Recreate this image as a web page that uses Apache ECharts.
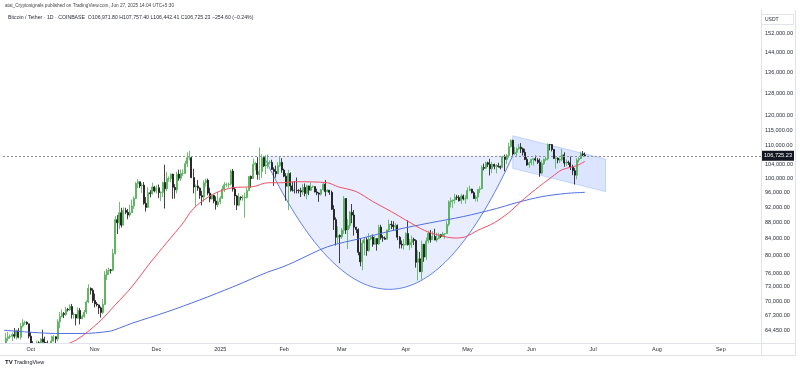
<!DOCTYPE html>
<html><head><meta charset="utf-8">
<script src="https://cdn.jsdelivr.net/npm/echarts@6/dist/echarts.min.js"></script>
<style>html,body{margin:0;padding:0;background:#fff}#c{width:800px;height:370px}</style>
</head><body><div id="c"></div>
<script>
// ---- data (prices in thousands of USDT), daily from 2024-09-18 to 2025-06-27 ----
const startDate = '2024-09-18';
const dayCount = 368; // visible axis span incl. empty future days
const opens = [
60.3,61.7,62.9,63.2,63.3,63.6,63.3,64.3,63.1,65.2,65.8,65.9,65.6,
63.3,60.8,60.6,60.7,62.1,62.0,62.8,62.2,62.1,60.6,60.3,62.4,63.2,62.8,66.0,67.0,67.6,67.4,68.4,68.3,69.0,67.4,67.4,66.7,68.2,66.6,67.0,67.9,69.9,72.7,72.3,
70.2,69.5,69.3,68.7,67.8,69.4,75.6,76.5,76.7,76.6,80.4,88.7,87.9,90.5,87.3,91.1,90.6,89.9,90.5,92.3,94.3,98.5,99.0,97.8,98.0,93.0,91.9,95.9,95.6,97.5,
96.4,97.3,95.9,96.0,98.8,97.0,99.9,99.9,101.2,97.4,96.7,101.2,100.0,101.4,101.4,104.3,106.1,106.1,100.2,97.5,97.8,97.2,95.1,94.7,98.7,99.4,95.8,94.2,95.2,93.6,92.6,
93.4,94.4,96.9,98.1,98.2,98.3,102.1,96.9,95.0,92.5,94.7,94.5,94.5,94.6,96.5,100.5,99.9,104.1,104.4,101.1,102.0,106.1,103.6,104.0,104.7,104.7,102.6,102.0,101.3,103.7,104.7,
102.4,100.6,97.7,101.4,97.8,96.6,96.55,96.5,96.45,96.1,97.4,95.7,97.8,96.6,97.5,97.6,96.1,95.8,95.5,96.7,98.3,96.2,96.6,96.0,91.4,88.7,84.3,84.7,
84.4,86.0,94.3,86.1,87.2,90.6,89.9,86.8,86.2,80.7,78.5,82.9,83.7,81.1,83.9,84.3,82.6,84.0,82.7,86.8,84.2,84.1,83.8,86.1,87.5,87.4,86.9,87.2,84.3,82.6,82.4,
82.5,85.2,82.5,83.1,83.8,83.5,78.4,79.2,76.3,82.6,79.6,83.4,85.3,83.7,84.5,83.6,84.0,84.9,84.5,85.1,85.2,87.5,93.4,93.7,93.9,94.7,94.6,93.7,95.0,94.2,
94.25,96.5,96.9,95.9,94.3,94.7,96.8,97.0,103.2,102.9,104.6,104.1,102.8,104.1,103.5,103.7,103.5,103.2,106.4,105.6,106.8,109.6,111.6,107.3,107.8,108.9,109.4,108.9,107.8,105.6,103.9,
104.6,105.6,105.8,105.4,104.7,101.5,104.3,105.6,105.8,110.3,110.25,108.7,105.9,106.0,105.4,105.6,107.0,104.5,104.7,104.6,103.3,102.2,100.9,105.4,105.9,107.3,106.9718
];
const highs = [
61.8,63.9,64.1,63.6,64.0,64.8,64.5,64.8,65.8,66.5,66.2,66.1,65.6,
64.1,62.4,61.5,62.5,62.4,62.9,64.5,63.2,62.5,61.3,63.4,63.5,63.3,66.5,67.9,68.4,67.9,68.9,68.7,69.4,69.5,67.8,67.5,68.8,68.7,67.4,68.3,70.2,73.6,72.9,72.7,
71.6,69.9,69.4,69.0,70.5,76.4,76.9,77.2,76.9,81.5,89.6,89.9,93.4,91.8,91.9,91.8,91.5,92.6,94.0,94.9,98.9,99.8,99.0,98.6,98.9,94.7,97.4,96.6,98.7,97.8,
98.0,98.2,96.3,99.0,104.0,101.9,100.5,101.4,101.3,98.3,101.9,102.5,102.6,102.6,105.2,107.8,108.3,106.5,102.8,98.2,99.5,97.4,96.4,99.4,99.9,99.9,97.3,95.5,95.2,94.9,96.1,
94.9,97.8,98.9,98.7,98.8,102.5,102.7,97.3,95.3,95.8,94.9,95.3,95.9,97.3,100.7,100.8,105.9,104.9,106.3,109.3,107.2,106.3,106.9,107.1,105.3,105.5,103.2,103.7,104.8,106.4,106.0,
102.8,101.5,102.5,101.7,99.0,99.2,100.2,96.9,97.3,98.3,98.5,98.1,97.9,98.8,97.9,97.7,97.0,96.0,96.9,98.8,99.5,96.9,96.6,96.5,92.5,89.3,87.0,85.0,
86.6,95.0,94.4,88.9,90.9,92.8,91.2,86.8,86.5,83.9,83.6,84.3,84.3,85.3,84.7,85.0,84.7,84.0,87.4,87.4,84.8,84.5,86.1,88.7,88.4,88.3,87.8,87.5,84.6,83.5,83.9,
85.5,88.5,83.9,84.7,84.2,83.8,81.2,80.8,83.5,82.7,84.2,85.9,86.1,85.8,86.4,85.4,85.4,85.1,85.6,85.3,88.4,93.8,94.6,94.0,95.6,95.3,95.2,95.6,95.4,95.2,
97.4,97.9,97.0,96.3,95.2,96.9,97.7,103.8,104.3,104.9,104.9,105.8,104.9,104.3,104.2,104.6,103.7,106.7,107.1,107.3,110.8,111.9,111.8,109.5,109.3,110.4,110.7,109.3,108.9,106.3,104.9,
105.8,105.9,106.8,106.0,105.9,105.3,105.9,106.4,110.6,110.4,110.4,108.8,106.2,106.2,106.0,108.9,107.8,105.6,105.2,106.5,104.0,103.0,106.0,106.3,108.0,108.2,107.7574
];
const lows = [
59.2,61.6,62.4,62.8,62.4,62.9,62.7,62.9,62.7,64.9,65.4,65.4,62.9,
60.2,59.9,59.8,60.5,61.7,61.8,62.2,61.8,60.3,58.9,60.1,62.4,62.0,62.4,64.8,66.8,66.7,67.1,68.0,68.1,66.6,66.6,65.3,66.6,65.5,66.5,66.8,67.5,69.7,71.4,69.7,
68.8,69.0,67.5,66.8,67.5,69.3,74.5,75.6,75.9,76.5,80.2,85.1,86.3,86.7,87.2,90.1,88.8,89.4,90.4,91.5,94.1,97.2,97.2,95.8,92.6,90.8,91.8,94.6,95.4,96.0,
95.7,94.4,93.6,94.7,91.6,96.4,99.0,98.8,94.2,94.3,95.7,99.3,99.2,100.6,101.2,103.3,105.3,100.0,95.7,92.1,96.4,94.2,92.4,93.4,97.6,95.2,93.3,94.0,93.0,91.3,92.0,
92.8,94.2,96.1,97.5,97.3,97.9,96.2,92.5,91.2,92.2,93.8,93.7,89.2,94.3,96.5,97.3,99.9,102.3,99.6,99.5,100.1,103.3,101.2,102.8,104.1,102.5,97.8,100.2,101.3,103.3,101.6,
100.3,93.7,91.2,96.2,96.2,95.7,95.7,95.7,94.7,95.3,94.9,94.1,95.2,96.3,97.2,96.0,95.2,93.4,95.1,96.5,94.9,96.1,95.3,91.2,86.1,82.3,82.8,78.2,
83.9,85.1,85.1,81.5,86.4,87.8,84.7,85.3,80.0,77.5,76.6,80.0,79.9,80.8,83.6,82.0,82.5,81.1,82.4,83.7,83.2,83.7,83.8,85.6,86.3,85.9,85.8,83.6,81.6,81.6,81.3,
82.4,82.3,81.2,81.7,82.4,77.2,74.4,76.3,74.6,78.5,78.9,82.8,83.0,83.7,83.6,83.1,83.8,84.1,84.4,83.9,85.1,87.0,91.9,91.7,92.9,93.9,93.5,92.8,93.8,92.9,
94.1,96.3,95.7,94.2,93.5,93.4,95.8,96.9,102.3,102.8,103.3,100.8,101.5,102.6,101.4,103.1,102.6,103.1,102.0,104.2,106.1,109.3,106.8,107.0,106.7,108.6,107.6,106.8,105.4,103.7,103.1,
103.9,103.7,105.0,104.2,100.4,101.1,103.9,105.1,105.3,108.4,108.1,105.7,102.8,104.4,104.5,105.0,103.4,103.6,103.9,102.4,100.9,98.2,99.7,104.7,105.8,106.6,106.44241
];
const closes = [
61.7,62.9,63.2,63.3,63.6,63.3,64.3,63.1,65.2,65.8,65.9,65.6,63.3,
60.8,60.6,60.7,62.1,62.0,62.8,62.2,62.1,60.6,60.3,62.4,63.2,62.8,66.0,67.0,67.6,67.4,68.4,68.3,69.0,67.4,67.4,66.7,68.2,66.6,67.0,67.9,69.9,72.7,72.3,70.2,
69.5,69.3,68.7,67.8,69.4,75.6,76.5,76.7,76.6,80.4,88.7,87.9,90.5,87.3,91.1,90.6,89.9,90.5,92.3,94.3,98.5,99.0,97.8,98.0,93.0,91.9,95.9,95.6,97.5,96.4,
97.3,95.9,96.0,98.8,97.0,99.9,99.9,101.2,97.4,96.7,101.2,100.0,101.4,101.4,104.3,106.1,106.1,100.2,97.5,97.8,97.2,95.1,94.7,98.7,99.4,95.8,94.2,95.2,93.6,92.6,93.4,
94.4,96.9,98.1,98.2,98.3,102.1,96.9,95.0,92.5,94.7,94.5,94.5,94.6,96.5,100.5,99.9,104.1,104.4,101.1,102.0,106.1,103.6,104.0,104.7,104.7,102.6,102.0,101.3,103.7,104.7,102.4,
100.6,97.7,101.4,97.8,96.6,96.55,96.5,96.45,96.1,97.4,95.7,97.8,96.6,97.5,97.6,96.1,95.8,95.5,96.7,98.3,96.2,96.6,96.0,91.4,88.7,84.3,84.7,84.4,
86.0,94.3,86.1,87.2,90.6,89.9,86.8,86.2,80.7,78.5,82.9,83.7,81.1,83.9,84.3,82.6,84.0,82.7,86.8,84.2,84.1,83.8,86.1,87.5,87.4,86.9,87.2,84.3,82.6,82.4,82.5,
85.2,82.5,83.1,83.8,83.5,78.4,79.2,76.3,82.6,79.6,83.4,85.3,83.7,84.5,83.6,84.0,84.9,84.5,85.1,85.2,87.5,93.4,93.7,93.9,94.7,94.6,93.7,95.0,94.2,94.25,
96.5,96.9,95.9,94.3,94.7,96.8,97.0,103.2,102.9,104.6,104.1,102.8,104.1,103.5,103.7,103.5,103.2,106.4,105.6,106.8,109.6,111.6,107.3,107.8,108.9,109.4,108.9,107.8,105.6,103.9,104.6,
105.6,105.8,105.4,104.7,101.5,104.3,105.6,105.8,110.3,110.25,108.7,105.9,106.0,105.4,105.6,107.0,104.5,104.7,104.6,103.3,102.2,100.9,105.4,105.9,107.3,106.97983,106.72523
];
// moving averages (thousands)
const ma50Dates = ['2024-10-12','2024-10-23','2024-11-03','2024-11-11','2024-11-19','2024-11-28','2024-12-06','2024-12-14','2024-12-18','2024-12-23','2024-12-30','2025-01-07','2025-01-17','2025-01-24','2025-01-31','2025-02-06','2025-02-22','2025-02-27','2025-03-08','2025-03-16','2025-03-25','2025-04-02','2025-04-10','2025-04-17','2025-04-25','2025-04-30','2025-05-06','2025-05-14','2025-05-21','2025-05-27','2025-06-03','2025-06-11','2025-06-16','2025-06-23','2025-06-27'];
const ma50Values = [61.0,62.6,65.9,69.3,73.0,78.3,83.0,87.9,91.0,93.5,95.9,97.3,97.6,98.7,98.7,99.0,98.7,97.6,96.2,93.5,90.8,88.3,86.0,84.8,84.1,84.4,86.0,87.9,90.5,93.5,96.8,100.4,102.5,103.7,105.0];
const ma200Dates = ['2024-09-18','2024-10-02','2024-10-13','2024-10-26','2024-11-08','2024-11-13','2024-11-19','2024-12-06','2024-12-22','2025-01-07','2025-01-24','2025-01-31','2025-02-06','2025-02-22','2025-03-11','2025-03-27','2025-04-13','2025-04-29','2025-05-15','2025-05-25','2025-06-06','2025-06-18','2025-06-27'];
const ma200Values = [64.4,64.0,63.8,63.8,64.2,64.8,65.7,67.9,70.3,73.0,76.2,77.3,78.5,82.0,84.1,86.1,87.9,89.5,91.6,93.2,94.8,95.7,96.0];
// drawings: cup (left rim, bottom, right rim) and descending channel corners
const cupDates = ['2025-01-22','2025-03-24','2025-05-23'];
const cupPrices = [106.725, 72.5, 106.725];
const channelDates = ['2025-05-23','2025-07-07','2025-07-07','2025-05-23'];
const channelPrices = [113.1, 105.7, 96.2, 102.9];
const priceTicks = [152000,144000,136000,128000,120000,115000,110000,104000,100000,96000,92000,88000,84000,80000,76000,73000,70000,67300,64450];
const monthNames = ['Jan','Feb','Mar','Apr','May','Jun','Jul','Aug','Sep','Oct','Nov','Dec'];

// ---- build ----
const K = 1000;
const cats = [];
const d0 = new Date(startDate + 'T00:00:00Z');
for (let i = 0; i < dayCount; i++) cats.push(new Date(d0.getTime() + i * 86400000).toISOString().slice(0, 10));
const candles = opens.map((o, i) => [o * K, closes[i] * K, lows[i] * K, highs[i] * K]);
const fmt = v => v.toLocaleString('en-US', {minimumFractionDigits: 2, maximumFractionDigits: 2});
const n = closes.length;
const lastC = closes[n - 1] * K, prevC = closes[n - 2] * K;
const chg = lastC - prevC, pct = chg / prevC * 100;
const sgn = chg < 0 ? '\u2212' : '+';
const line1 = 'atai_Cryptosignals published on TradingView.com, Jun 27, 2025 14:04 UTC+5:30';
const line2 = 'Bitcoin / Tether \u00b7 1D \u00b7 COINBASE  O' + fmt(opens[n - 1] * K) + ' H' + fmt(highs[n - 1] * K) +
  ' L' + fmt(lows[n - 1] * K) + ' C' + fmt(lastC) + ' ' + sgn + fmt(Math.abs(chg)) + ' (' + sgn + Math.abs(pct).toFixed(2) + '%)';
const FF = 'Liberation Sans, Arial, sans-serif';
const idx = d => cats.indexOf(d);

const chart = echarts.init(document.getElementById('c'), null, {renderer: 'canvas'});
chart.setOption({
  animation: false,
  backgroundColor: '#ffffff',
  textStyle: {fontFamily: FF},
  grid: {left: 3, right: 39, top: 10, bottom: 27},
  xAxis: {
    type: 'category', data: cats, boundaryGap: true, z: 10,
    axisLine: {show: true, lineStyle: {color: '#e0e3eb'}},
    axisTick: {show: false}, splitLine: {show: false},
    axisLabel: {
      interval: (i, v) => v.slice(8) === '01',
      formatter: v => { const m = +v.slice(5, 7); return m === 1 ? v.slice(0, 4) : monthNames[m - 1]; },
      fontSize: 5.5, color: '#2a2e39', margin: 3, fontFamily: FF
    }
  },
  yAxis: {
    type: 'log', logBase: 10, position: 'right', min: 62065, max: 162755,
    axisLine: {show: true, lineStyle: {color: '#e0e3eb'}},
    axisTick: {show: false}, splitLine: {show: false},
    axisLabel: {customValues: priceTicks, formatter: v => fmt(v), fontSize: 5.6, color: '#2a2e39', margin: 4, fontFamily: FF}
  },
  series: [
    {
      type: 'custom', z: 1, silent: true, data: [[0, 100000]],
      renderItem: (params, api) => {
        const p0 = api.coord([idx(cupDates[0]), cupPrices[0] * K]);
        const pv = api.coord([idx(cupDates[1]), cupPrices[1] * K]);
        const p2 = api.coord([idx(cupDates[2]), cupPrices[2] * K]);
        const c = [2 * pv[0] - (p0[0] + p2[0]) / 2, 2 * pv[1] - (p0[1] + p2[1]) / 2];
        const curve = [];
        for (let k = 0; k <= 80; k++) {
          const t = k / 80, u = 1 - t;
          curve.push([u * u * p0[0] + 2 * u * t * c[0] + t * t * p2[0], u * u * p0[1] + 2 * u * t * c[1] + t * t * p2[1]]);
        }
        const ch = channelDates.map((d, i) => api.coord([idx(d), channelPrices[i] * K]));
        return {type: 'group', children: [
          {type: 'polygon', shape: {points: curve}, style: {fill: 'rgba(41,98,255,0.11)', stroke: null}},
          {type: 'polyline', shape: {points: curve}, style: {stroke: '#5f80e8', lineWidth: 1, fill: null}},
          {type: 'polygon', shape: {points: ch}, style: {fill: 'rgba(41,98,255,0.17)', stroke: 'rgba(41,98,255,0.22)', lineWidth: 1}}
        ]};
      }
    },
    {
      type: 'line', z: 3, data: ma200Dates.map((d, i) => [d, ma200Values[i] * K]),
      symbol: 'none', smooth: 0.3, lineStyle: {color: '#4f6fe0', width: 1}
    },
    {
      type: 'line', z: 3, data: ma50Dates.map((d, i) => [d, ma50Values[i] * K]),
      symbol: 'none', smooth: 0.3, lineStyle: {color: '#ee4f62', width: 1}
    },
    {
      type: 'candlestick', z: 2, data: candles, barWidth: 1.5,
      itemStyle: {color: '#4caf50', color0: '#111111', borderColor: '#4caf50', borderColor0: '#111111', borderWidth: 0.8},
      markLine: {
        symbol: 'none', silent: true, animation: false,
        lineStyle: {color: '#8a8e99', type: [2, 2], width: 1},
        label: {show: true, position: 'end', formatter: fmt(lastC), backgroundColor: '#131722', color: '#ffffff',
          fontSize: 5.6, padding: [2, 2], distance: 1, fontFamily: FF},
        data: [{yAxis: lastC}]
      }
    }
  ],
  graphic: [
    // mask below the pane so candles are cut at the time-axis line, like the original
    {type: 'rect', z: 5, silent: true, shape: {x: 0, y: 343.5, width: 761, height: 12}, style: {fill: '#ffffff'}},
    {type: 'text', x: 5, y: 6, style: {text: line1, fontSize: 4.7, fill: '#444', verticalAlign: 'middle', fontFamily: FF}},
    {type: 'text', x: 8, y: 17.5, style: {text: line2, fontSize: 5.2, fill: '#2a2e39', verticalAlign: 'middle', fontFamily: FF}},
    {type: 'rect', shape: {x: 761.5, y: 14.5, width: 32, height: 10}, style: {fill: '#fff', stroke: '#e0e3eb', lineWidth: 1}},
    {type: 'text', x: 765, y: 19.5, style: {text: 'USDT', fontSize: 5, fill: '#2a2e39', verticalAlign: 'middle', fontFamily: FF}},
    {type: 'line', z: 6, shape: {x1: 761.5, y1: 343, x2: 761.5, y2: 355.5}, style: {stroke: '#e0e3eb', lineWidth: 1}},
    {type: 'line', z: 6, shape: {x1: 0, y1: 355.5, x2: 795.5, y2: 355.5}, style: {stroke: '#e0e3eb', lineWidth: 1}},
    {type: 'line', z: 6, shape: {x1: 0, y1: 343.5, x2: 795.5, y2: 343.5}, style: {stroke: '#e0e3eb', lineWidth: 1}},
    {type: 'line', shape: {x1: 795.5, y1: 10, x2: 795.5, y2: 355.5}, style: {stroke: '#e0e3eb', lineWidth: 1}},
    {type: 'text', x: 5, y: 362.5, style: {text: 'TV', fontSize: 6, fontWeight: 'bold', fill: '#131722', verticalAlign: 'middle', fontFamily: FF}},
    {type: 'text', x: 14, y: 362.5, style: {text: 'TradingView', fontSize: 5.5, fill: '#131722', verticalAlign: 'middle', fontFamily: FF}}
  ]
});
</script>
</body></html>
